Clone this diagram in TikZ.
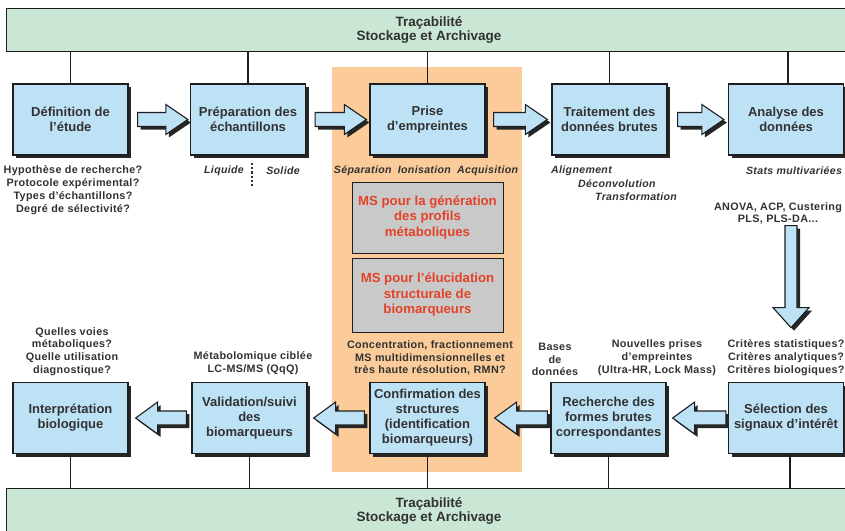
\documentclass[tikz,border=0pt]{standalone}
\usepackage{fontspec}
\setmainfont{Liberation Sans}
\newfontfamily\notefont[LetterSpace=3]{Liberation Sans}
\usetikzlibrary{calc,shadows}
\definecolor{boxblue}{RGB}{190,226,245}
\definecolor{bargreen}{RGB}{202,230,212}
\definecolor{panelorange}{RGB}{251,204,154}
\definecolor{boxgray}{RGB}{201,201,201}
\definecolor{msred}{RGB}{228,66,40}
\definecolor{txtgray}{RGB}{50,50,50}
\definecolor{edge}{RGB}{30,30,30}

% #1 tail, #2 tip, #3 shaft half-width, #4 head half-width, #5 head length
\newcommand\blockarrow[5]{%
  \draw[barrow] let \p1=(#1), \p2=(#2), \n2={atan2(\y2-\y1,\x2-\x1)} in
     ($(\p1)+(\n2+90:#3)$)
     -- ($(\p2)+(\n2+180:#5)+(\n2+90:#3)$)
     -- ($(\p2)+(\n2+180:#5)+(\n2+90:#4)$)
     -- (\p2)
     -- ($(\p2)+(\n2+180:#5)+(\n2-90:#4)$)
     -- ($(\p2)+(\n2+180:#5)+(\n2-90:#3)$)
     -- ($(\p1)+(\n2-90:#3)$) -- cycle;}

\begin{document}
\begin{tikzpicture}[x=1pt,y=1pt,
  shadowed/.style={drop shadow={fill=black!85, opacity=1, shadow xshift=3pt, shadow yshift=-3pt}},
  box/.style={rectangle, draw=edge, line width=1.3pt, fill=boxblue, minimum width=115pt,
    minimum height=71pt, align=center, inner sep=1pt, text=txtgray,
    font=\fontsize{13}{15}\selectfont\bfseries, shadowed},
  bar/.style={rectangle, draw=edge, line width=1.2pt, fill=bargreen, align=center,
    inner sep=0pt, text=txtgray, font=\fontsize{13.5}{14.5}\selectfont\bfseries},
  panel/.style={rectangle, fill=panelorange, draw=none, inner sep=0pt},
  msbox/.style={rectangle, draw=edge, line width=1pt, fill=boxgray, minimum width=151pt,
    align=center, inner sep=1pt, text=msred, font=\fontsize{13.2}{15.5}\selectfont\bfseries},
  note/.style={align=center, inner sep=0pt, text=txtgray,
    font=\notefont\fontsize{10.8}{12.8}\selectfont\bfseries},
  inote/.style={note, font=\notefont\fontsize{10.6}{12.8}\selectfont\bfseries\itshape},
  conn/.style={draw=edge, line width=1.2pt},
  sepdots/.style={draw=txtgray, line width=1.6pt, dash pattern=on 2.2pt off 2pt},
  barrow/.style={fill=boxblue, draw=edge, line width=1.1pt, line join=miter, shadowed}]

\useasboundingbox (0,0) rectangle (845,-530);
\clip (0,0) rectangle (845,-530);
\fill[white] (0,0) rectangle (845,-530);

% orange panel
\node[panel, minimum width=190pt, minimum height=405pt, anchor=north west] (panel) at (332,-67) {};

% bars
\node[bar, minimum width=845pt, minimum height=43pt, anchor=north west] (top) at (6,-8)
  {Traçabilité\\Stockage et Archivage};
\node[bar, minimum width=845pt, minimum height=45pt, anchor=north west] (bot) at (6,-488)
  {Traçabilité\\Stockage et Archivage};

% boxes
\node[box] (b1) at (70.5,-119.5) {Définition de\\l’étude};
\node[box] (b2) at (248,-119.5) {Préparation des\\échantillons};
\node[box] (b3) at (427.5,-119.5) {Prise\\d’empreintes};
\node[box] (b4) at (609.5,-119.5) {Traitement des\\données brutes};
\node[box] (b5) at (786,-119.5) {Analyse des\\données};
\node[box] (c5) at (786,-418) {Sélection des\\signaux d’intérêt};
\node[box] (c4) at (608.5,-418) {Recherche des\\formes brutes\\correspondantes};
\node[box] (c3) at (427.5,-418) {Confirmation des\\structures\\(identification\\biomarqueurs)};
\node[box] (c2) at (249.5,-418) {Validation/suivi\\des\\biomarqueurs};
\node[box] (c1) at (70.5,-418) {Interprétation\\biologique};

% connectors to bars
\foreach \b in {b1,b2,b3,b4}
  \draw[conn] (\b.north) -- (\b.north |- top.south);
\draw[conn] ($(b5.north)+(2,0)$) -- ($(b5.north |- top.south)+(2,0)$);
\foreach \b in {c1,c2,c3,c4}
  \draw[conn] (\b.south) -- (\b.south |- bot.north);
\draw[conn] ($(c5.south)+(4,0)$) -- ($(c5.south |- bot.north)+(4,0)$);

% MS boxes
\node[msbox, minimum height=71pt] (g1) at (427.5,-217.5) {MS pour la génération\\des profils\\métaboliques};
\node[msbox, minimum height=74pt] (g2) at (427.5,-295) {MS pour l'élucidation\\structurale de\\biomarqueurs};

% notes
\node[note] (n1) at (73,-190) {Hypothèse de recherche?\\Protocole expérimental?\\Types d’échantillons?\\Degré de sélectivité?};
\node[inote] (liq) at (224,-171) {Liquide};
\node[inote] (sol) at (283,-171) {Solide};
\coordinate (ls1) at (252,-163);
\coordinate (ls2) at (252,-187);
\draw[sepdots] (ls1) -- (ls2);
\node[inote] (sia) at (426,-171) {Séparation\hskip 0.6em Ionisation\hskip 0.6em Acquisition};
\node[inote, anchor=west] (al) at (551,-171) {Alignement};
\node[inote, anchor=west] (de) at (578,-184) {Déconvolution};
\node[inote, anchor=west] (tr) at (595,-197) {Transformation};
\node[inote] (st) at (794,-171) {Stats multivariées};
\node[note] (an) at (778,-213.5) {ANOVA, ACP, Custering\\PLS, PLS-DA...};

\node[note] (q) at (72,-351.5) {Quelles voies\\métaboliques?\\Quelle utilisation\\diagnostique?};
\node[note] (mc) at (253,-363.5) {Métabolomique ciblée\\LC-MS/MS (QqQ)};
\node[note] (cf) at (430,-358) {Concentration, fractionnement\\MS multidimensionnelles et\\très haute résolution, RMN?};
\node[note] (bd) at (555,-359.5) {Bases\\de\\données};
\node[note] (np) at (657,-357.5) {Nouvelles prises\\d’empreintes\\(Ultra-HR, Lock Mass)};
\node[note] (cr) at (786,-357.5) {Critères statistiques?\\Critères analytiques?\\Critères biologiques?};

% arrow end points
\coordinate (a1s) at ($(b1.east)+(9,0)$);  \coordinate (a1e) at ($(b2.west)+(-2,0)$);
\coordinate (a2s) at ($(b2.east)+(9,0)$);  \coordinate (a2e) at ($(b3.west)+(-3,0)$);
\coordinate (a3s) at ($(b3.east)+(8,0)$);  \coordinate (a3e) at ($(b4.west)+(-4,0)$);
\coordinate (a4s) at ($(b4.east)+(10,0)$); \coordinate (a4e) at ($(b5.west)+(-4,0)$);
\coordinate (v1) at ($(b5.south)+(5,-70)$); \coordinate (v2) at ($(b5.south)+(5,-172)$);
\coordinate (r1s) at ($(c5.west)+(-2,0)$); \coordinate (r1e) at ($(c4.east)+(6,0)$);
\coordinate (r2s) at ($(c4.west)+(-3,0)$); \coordinate (r2e) at ($(c3.east)+(9,0)$);
\coordinate (r3s) at ($(c3.west)+(-5,0)$); \coordinate (r3e) at ($(c2.east)+(6,0)$);
\coordinate (r4s) at ($(c2.west)+(-5,0)$); \coordinate (r4e) at ($(c1.east)+(7,0)$);

\blockarrow{a1s}{a1e}{7pt}{15pt}{22pt}
\blockarrow{a2s}{a2e}{7pt}{15pt}{22pt}
\blockarrow{a3s}{a3e}{7pt}{15pt}{22pt}
\blockarrow{a4s}{a4e}{7pt}{15pt}{22pt}
\blockarrow{v1}{v2}{6pt}{18pt}{20pt}
\blockarrow{r1s}{r1e}{7pt}{16pt}{22pt}
\blockarrow{r2s}{r2e}{7pt}{16pt}{22pt}
\blockarrow{r3s}{r3e}{7pt}{16pt}{22pt}
\blockarrow{r4s}{r4e}{7pt}{16pt}{22pt}
\end{tikzpicture}
\end{document}
